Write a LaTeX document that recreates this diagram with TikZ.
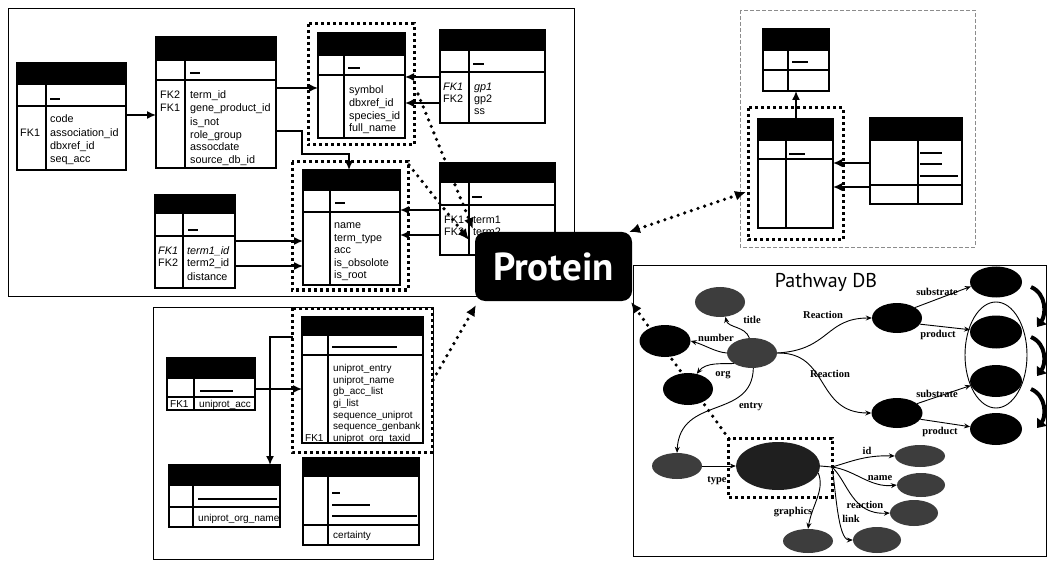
\documentclass[tikz,border=0pt]{standalone}
\usepackage{fontspec}
\setmainfont{Liberation Sans}
\newfontfamily\lsans{Liberation Sans}
\newfontfamily\lserif{Liberation Serif}
\newfontfamily\ptsans{PT Sans}
\usetikzlibrary{arrows.meta,shapes.geometric}
\tikzset{
 tabline/.style={draw=black, line width=1.1pt},
 tt/.style={anchor=base west, inner sep=0pt, font=\lsans\fontsize{10.8}{12}\selectfont},
 ttb/.style={anchor=base west, inner sep=0pt, font=\lsans\fontsize{10}{12}\selectfont},
 ph/.style={line width=1.2pt},
 tarrow/.style={line width=1.5pt, -{Latex[length=9pt,width=8pt]}},
 dotbox/.style={line width=3pt, dash pattern=on 3pt off 3pt},
 dotarrow/.style={line width=3.6pt, line cap=round, dash pattern=on 0pt off 7pt, -{Latex[length=11pt,width=10pt]}},
 dotarrow2/.style={line width=3.6pt, line cap=round, dash pattern=on 0pt off 7pt, {Latex[length=11pt,width=10pt]}-{Latex[length=11pt,width=10pt]}},
 panel/.style={draw=black, line width=0.8pt},
 gell/.style={ellipse, fill=black!76, inner sep=0pt},
 bell/.style={ellipse, fill=black, inner sep=0pt},
 pe/.style={line width=0.9pt, -{Stealth[length=6pt,width=5pt]}},
 pl/.style={font=\lserif\bfseries\fontsize{10.5}{12}\selectfont, inner sep=0pt},
 curvarrow/.style={line width=4pt, -{Triangle[length=8pt,width=12pt]}},
 protein/.style={fill=black, rounded corners=10pt, minimum width=157pt, minimum height=69pt, text=white, font=\ptsans\bfseries\fontsize{39}{40}\selectfont, inner sep=0pt},
}
\newcommand\dbtab[8]{%
  \fill[black] (#2,#4) rectangle (#3,#5);
  \draw[tabline] (#2,#4) rectangle (#3,#7);
  \draw[tabline] (#2,#5) -- (#3,#5) (#2,#6) -- (#3,#6) (#8,#5) -- (#8,#7);
  \path (#2,#4) coordinate (#1-nw) (#3,#7) coordinate (#1-se);
}
\begin{document}
\begin{tikzpicture}[x=1pt,y=-1pt]
\useasboundingbox[fill=white] (0,0) rectangle (1049,561);

% ---------- panels ----------
\draw[panel] (8,8) rectangle (574,296);
\draw[panel] (153,307) rectangle (433,559);
\draw[draw=black!45, line width=0.8pt, dash pattern=on 4pt off 2pt] (740,10) rectangle (975,247);
\draw[panel] (633,265) rectangle (1046,556);

% ---------- top-left tables ----------
\dbtab{A}{17}{126}{63}{84}{106}{170}{46}
\draw[ph] (50,99) -- (60,99);
\node[tt] at (20,137) {FK1};
\node[tt] at (50,123) {code};
\node[tt] at (50,137) {association\_id};
\node[tt] at (50,150) {dbxref\_id};
\node[tt] at (50,163) {seq\_acc};

\dbtab{B}{156}{276}{37}{60}{80}{168}{185}
\draw[ph] (190,73) -- (200,73);
\node[tt] at (160,99) {FK2};
\node[tt] at (160,112) {FK1};
\node[tt] at (190,99) {term\_id};
\node[tt] at (190,112) {gene\_product\_id};
\node[tt] at (190,126) {is\_not};
\node[tt] at (190,139) {role\_group};
\node[tt] at (190,151) {assocdate};
\node[tt] at (190,164) {source\_db\_id};

\dbtab{C}{318}{405}{33}{55}{75}{138}{344}
\draw[ph] (348,68) -- (360,68);
\node[tt] at (349,94) {symbol};
\node[tt] at (349,107) {dbxref\_id};
\node[tt] at (349,120) {species\_id};
\node[tt] at (349,132) {full\_name};

\dbtab{F}{440}{545}{30}{50}{72}{123}{469}
\draw[ph] (473,64) -- (484,64);
\node[tt] at (443,91) {\itshape FK1};
\node[tt] at (443,103) {FK2};
\node[tt] at (474,91) {\itshape gp1};
\node[tt] at (474,103) {gp2};
\node[tt] at (474,115) {ss};

\dbtab{D}{303}{400}{170}{190}{212}{285}{330}
\draw[ph] (335,203) -- (345,203);
\node[tt] at (334,229) {name};
\node[tt] at (334,242) {term\_type};
\node[tt] at (334,254) {acc};
\node[tt] at (334,267) {is\_obsolote};
\node[tt] at (334,279) {is\_root};

\dbtab{E}{155}{235}{195}{213}{236}{288}{183}
\draw[ph] (188,230) -- (198,230);
\node[tt] at (158,255) {\itshape FK1};
\node[tt] at (158,267) {FK2};
\node[tt] at (187,255) {\itshape term1\_id};
\node[tt] at (187,267) {term2\_id};
\node[tt] at (187,280) {distance};

\dbtab{G}{440}{555}{163}{182}{205}{255}{469}
\draw[ph] (472,197) -- (482,197);
\node[tt] at (444,224) {FK1};
\node[tt] at (444,236) {FK2};
\node[tt] at (473,224) {term1};
\node[tt] at (473,236) {term2};

% dotted boxes
\draw[dotbox] (308,24) rectangle (414,145);
\draw[dotbox] (292,162) rectangle (408,290);

% solid arrows (top-left)
\coordinate (a1) at (126,115); \coordinate (b1) at (156,115);
\draw[tarrow] (a1) -- (b1);
\coordinate (b2) at (276,88); \coordinate (c2) at (318,88);
\draw[tarrow] (b2) -- (c2);
\coordinate (b3) at (276,131); \coordinate (d3) at (349,170);
\draw[tarrow] (b3) -- (302,131) -- (302,154) -- (349,154) -- (d3);
\coordinate (f1) at (440,77); \coordinate (cf1) at (405,77);
\coordinate (f2) at (440,103); \coordinate (cf2) at (405,103);
\draw[tarrow] (f1) -- (cf1);
\draw[tarrow] (f2) -- (cf2);
\coordinate (e1) at (235,241); \coordinate (de1) at (303,241);
\coordinate (e2) at (235,266); \coordinate (de2) at (303,266);
\draw[tarrow] (e1) -- (de1);
\draw[tarrow] (e2) -- (de2);
\coordinate (g1) at (440,210); \coordinate (dg1) at (400,210);
\coordinate (g2) at (440,235); \coordinate (dg2) at (400,235);
\draw[tarrow] (g1) -- (dg1);
\draw[tarrow] (g2) -- (dg2);

% ---------- bottom-left tables ----------
\dbtab{H}{302}{423}{317}{335}{355}{443}{328}
\draw[ph] (332,347) -- (397,347);
\node[ttb] at (305,441) {FK1};
\node[ttb] at (333,371) {uniprot\_entry};
\node[ttb] at (333,383) {uniprot\_name};
\node[ttb] at (333,394.5) {gb\_acc\_list};
\node[ttb] at (333,406) {gi\_list};
\node[ttb] at (333,418) {sequence\_uniprot};
\node[ttb] at (333,429.5) {sequence\_genbank};
\node[ttb] at (333,441) {uniprot\_org\_taxid};
\draw[dotbox] (292,308) rectangle (432,452);

\dbtab{I}{167}{255}{358}{378}{397}{410}{194}
\draw[ph] (200,391) -- (233,391);
\node[ttb] at (170,407) {FK1};
\node[ttb] at (199,407) {uniprot\_acc};

\dbtab{J}{169}{280}{465}{485}{507}{527}{193}
\draw[ph] (198,499) -- (277,499);
\node[ttb] at (198,521.5) {uniprot\_org\_name};

\dbtab{K}{303}{419}{458}{476}{525}{545}{328}
\draw[ph] (332,493) -- (340,493);
\draw[ph] (332,505) -- (370,505);
\draw[ph] (332,516) -- (417,516);
\node[ttb] at (333,538.5) {certainty};

\coordinate (i1) at (255,389); \coordinate (hi1) at (302,389);
\draw[tarrow] (i1) -- (hi1);
\coordinate (h2) at (293,337); \coordinate (j2) at (270,465);
\draw[tarrow] (h2) -- (270,337) -- (j2);

% ---------- top-right tables ----------
\dbtab{T1}{763}{829}{29}{50}{70}{91}{788}
\draw[ph] (792,62) -- (808,62);
\dbtab{T2}{758}{833}{119}{140}{159}{228}{786}
\draw[ph] (789,154) -- (805,154);
\dbtab{T3}{870}{962}{118}{140}{185}{204}{918}
\draw[ph] (920,153) -- (942,153);
\draw[ph] (920,164) -- (942,164);
\draw[ph] (920,176) -- (958,176);
\draw[dotbox] (748,108) rectangle (843,240);
\coordinate (t2top) at (796,119); \coordinate (t1bot) at (796,91);
\draw[tarrow] (t2top) -- (t1bot);
\coordinate (t3a) at (870,163); \coordinate (t2a) at (833,163);
\coordinate (t3b) at (870,187); \coordinate (t2b) at (833,187);
\draw[tarrow] (t3a) -- (t2a);
\draw[tarrow] (t3b) -- (t2b);

% ---------- pathway panel ----------
\node[font=\ptsans\fontsize{20}{22}\selectfont, inner sep=0pt] (ptitle) at (826,282) {Pathway DB};
\draw[dotbox] (728,438) rectangle (832,497);

% dotted connectors
\coordinate (cbox) at (418,94); \coordinate (pc) at (473,229);
\coordinate (dbox) at (409,165); \coordinate (pd) at (469,240);
\coordinate (pr) at (629,232); \coordinate (trbox) at (746,192);
\coordinate (hbox) at (433,380); \coordinate (pb) at (476,305);
\coordinate (pwbox) at (729,439); \coordinate (pw) at (631,302);
\draw[dotarrow] (cbox) -- (pc);
\draw[dotarrow] (dbox) -- (pd);
\draw[dotarrow2] (pr) -- (trbox);
\draw[dotarrow] (hbox) -- (pb);
\draw[dotarrow] (pwbox) -- (pw);

% ellipses
\node[gell, minimum width=50pt, minimum height=30pt] (title) at (720,302) {};
\node[bell, minimum width=51pt, minimum height=32pt] (number) at (665,341) {};
\node[gell, minimum width=50pt, minimum height=30pt] (entry) at (752,353) {};
\node[bell, minimum width=50pt, minimum height=32pt] (org) at (688,389) {};
\node[gell, minimum width=50pt, minimum height=26pt] (typeE) at (677,466) {};
\node[ellipse, fill=black!88, inner sep=0pt, minimum width=84pt, minimum height=48pt] (big) at (778,466) {};
\node[gell, minimum width=50pt, minimum height=24pt] (graphics) at (808,541) {};
\node[gell, minimum width=50pt, minimum height=22pt] (idE) at (920,456) {};
\node[gell, minimum width=48pt, minimum height=24pt] (nameE) at (921,485) {};
\node[gell, minimum width=48pt, minimum height=26pt] (reacE) at (914,513) {};
\node[gell, minimum width=48pt, minimum height=26pt] (linkE) at (877,540) {};
\node[bell, minimum width=50pt, minimum height=30pt] (r1) at (897,318) {};
\node[bell, minimum width=51pt, minimum height=30pt] (r2) at (897,413) {};
\node[bell, minimum width=52pt, minimum height=31pt] (c1) at (996,282) {};
\node[bell, minimum width=52pt, minimum height=33pt] (c2) at (996,332) {};
\node[bell, minimum width=52pt, minimum height=32pt] (c3) at (996,381) {};
\node[bell, minimum width=52pt, minimum height=32pt] (c4) at (996,429) {};
\node[ellipse, draw=black, line width=0.9pt, inner sep=0pt, minimum width=62pt, minimum height=106pt] (grp) at (996,355) {};

% pathway edges
\draw[pe] (entry.100) .. controls (745,326) and (728,328) .. (title.-70);
\draw[pe] (entry.180) .. controls (715,352) and (705,345) .. (number.0);
\draw[pe] (entry.210) .. controls (722,364) and (706,362) .. (org.60);
\draw[pe] (entry.-85) .. controls (752,420) and (680,395) .. (typeE.north);
\draw[pe] (typeE.east) -- (big.west);
\draw[pe] (big.-10) .. controls (825,490) and (812,505) .. (graphics.north);
\coordinate (jn) at (832,467);
\draw[line width=0.9pt] (big.east) -- (jn);
\draw[pe] (jn) .. controls (850,462) and (865,455) .. (idE.west);
\draw[pe] (jn) .. controls (855,470) and (870,488) .. (nameE.west);
\draw[pe] (jn) .. controls (848,482) and (852,515) .. (reacE.west);
\draw[pe] (jn) .. controls (836,492) and (838,540) .. (linkE.west);
\draw[pe] (entry.east) .. controls (830,350) and (825,318) .. (r1.west);
\draw[pe] (entry.east) .. controls (830,352) and (815,413) .. (r2.west);
\draw[pe] (r1.30) -- (c1.190);
\draw[pe] (r1.-15) -- (c2.175);
\draw[pe] (r2.25) -- (c3.190);
\draw[pe] (r2.-15) -- (c4.175);

% labels
\node[pl] at (752,320) {title};
\node[pl] at (716,338) {number};
\node[pl] at (723,375) {org};
\node[pl] at (751,407) {entry};
\node[pl] at (717,481) {type};
\node[pl] at (793,512) {graphics};
\node[pl] at (823,315) {Reaction};
\node[pl] at (830,374) {Reaction};
\node[pl] at (937,292) {substrate};
\node[pl] at (938,335) {product};
\node[pl] at (937,394) {substrate};
\node[pl] at (940,432) {product};
\node[pl] at (867,451) {id};
\node[pl] at (880,478) {name};
\node[pl] at (865,505) {reaction};
\node[pl] at (851,519) {link};

% curved arrows
\draw[curvarrow] (1031,287) .. controls (1047,294) and (1046,315) .. (1037,327);
\draw[curvarrow] (1031,337) .. controls (1047,344) and (1046,364) .. (1037,376);
\draw[curvarrow] (1031,389) .. controls (1047,396) and (1046,417) .. (1037,428);

% ---------- Protein ----------
\node[protein] (prot) at (553.5,266.5) {Protein};
\end{tikzpicture}
\end{document}
